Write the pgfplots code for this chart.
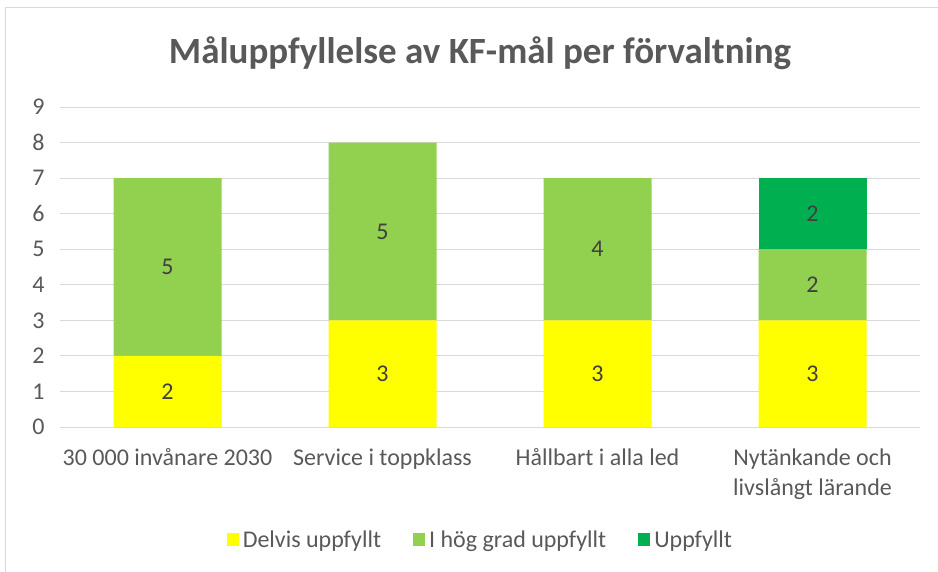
\documentclass[border=0pt]{standalone}
\usepackage{pgfplots}
\pgfplotsset{compat=1.18}
\usepackage{fontspec}
\setmainfont{Carlito}
\definecolor{cyel}{HTML}{FFFF00}
\definecolor{clg}{HTML}{92D050}
\definecolor{cg}{HTML}{00B050}
\definecolor{txt}{HTML}{595959}
\definecolor{grd}{HTML}{D9D9D9}
\definecolor{lbl}{HTML}{404040}
\begin{document}
\begin{tikzpicture}[x=1pt,y=1pt]
\useasboundingbox (0,0) rectangle (938,571);
\draw[grd, line width=1pt] (5,-20) rectangle (960,563);
\node[font=\fontsize{37}{44}\selectfont\bfseries, text=txt] at (480,518) {Måluppfyllelse av KF-mål per förvaltning};
\begin{axis}[
  at={(60pt,144pt)}, anchor=south west, scale only axis,
  width=860pt, height=320pt,
  ybar stacked, bar width=108pt,
  xmin=-0.5, xmax=3.5, ymin=0, ymax=9,
  ytick={0,...,9}, xtick={0,1,2,3},
  xticklabels={30 000 invånare 2030, Service i toppklass, Hållbart i alla led, {Nytänkande och\\livslångt lärande}},
  axis lines*=left,
  y axis line style={draw=none},
  x axis line style={draw=grd, line width=1pt},
  ymajorgrids, grid style={draw=grd, line width=1pt},
  major tick length=0pt,
  /pgf/number format/assume math mode=true,
  ticklabel style={font=\fontsize{24}{30}\selectfont, text=txt},
  xticklabel style={align=center, anchor=north, yshift=-18pt},
  yticklabel style={anchor=east, xshift=-12pt},
  legend columns=3,
  legend style={at={(rel axis cs:0.49,-0.353)}, anchor=center, draw=none, fill=none,
    font=\fontsize{24}{30}\selectfont, text=txt,
    nodes={inner sep=4pt},
    /tikz/every odd column/.append style={column sep=0pt},
    /tikz/every even column/.append style={column sep=28pt}},
  legend image code/.code={\fill[#1] (0pt,-6.5pt) rectangle (12pt,6.5pt);},
]
\addplot[fill=cyel, draw=none] coordinates {(0,2) (1,3) (2,3) (3,3)};
\addplot[fill=clg, draw=none] coordinates {(0,5) (1,5) (2,4) (3,2)};
\addplot[fill=cg, draw=none] coordinates {(0,0) (1,0) (2,0) (3,2)};
\legend{Delvis uppfyllt, I hög grad uppfyllt, Uppfyllt}
\end{axis}
\begin{axis}[
  at={(60pt,144pt)}, anchor=south west, scale only axis,
  width=860pt, height=320pt,
  xmin=-0.5, xmax=3.5, ymin=0, ymax=9, hide axis,
]
\addplot[draw=none, mark=none, nodes near coords, point meta=explicit symbolic,
  nodes near coords style={anchor=center, font=\fontsize{24}{30}\selectfont, text=lbl}]
  coordinates {(0,1) [2] (0,4.5) [5] (1,1.5) [3] (1,5.5) [5] (2,1.5) [3] (2,5) [4] (3,1.5) [3] (3,4) [2] (3,6) [2]};
\end{axis}
\end{tikzpicture}
\end{document}
